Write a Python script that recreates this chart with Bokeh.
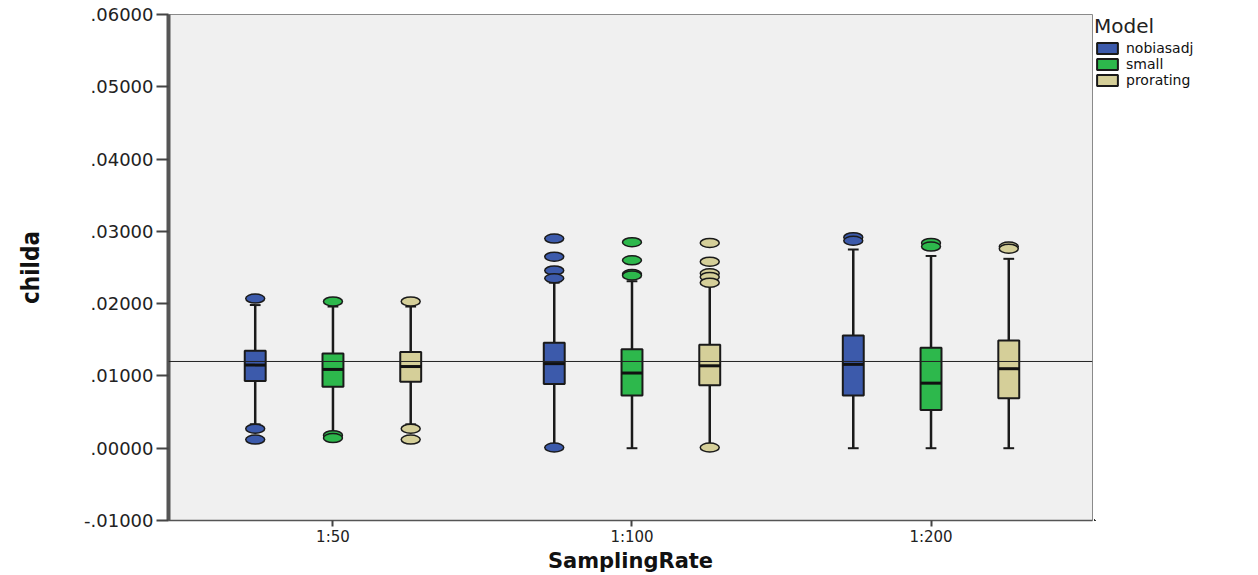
from bokeh.plotting import figure
from bokeh.layouts import row
from bokeh.models import (ColumnDataSource, Span, Legend, LegendItem, FixedTicker,
                          CustomJSTickFormatter, Range1d)
from bokeh.embed import file_html
from bokeh.resources import INLINE

groups = ["1:50", "1:100", "1:200"]
models = ["nobiasadj", "small", "prorating"]
colors = ["#3c5aab", "#2db84c", "#d5cf99"]

# rows: model, columns: sampling rate group
whisker_low = [[0.0033, 0.0005, 0.0000],
               [0.0022, 0.0000, 0.0000],
               [0.0033, 0.0005, 0.0000]]
q1 = [[0.0093, 0.0089, 0.0073],
      [0.0085, 0.0073, 0.0053],
      [0.0092, 0.0087, 0.0069]]
median = [[0.0115, 0.0117, 0.0116],
          [0.0109, 0.0104, 0.0090],
          [0.0113, 0.0114, 0.0110]]
q3 = [[0.0135, 0.0146, 0.0156],
      [0.0131, 0.0137, 0.0139],
      [0.0133, 0.0143, 0.0149]]
whisker_high = [[0.0198, 0.0229, 0.0275],
                [0.0196, 0.0231, 0.0266],
                [0.0196, 0.0224, 0.0262]]
outliers = [
    [[0.0207, 0.0027, 0.0012], [0.0290, 0.0265, 0.0246, 0.0235, 0.0001], [0.0292, 0.0287]],
    [[0.0203, 0.0018, 0.0014], [0.0285, 0.0260, 0.0241, 0.0239], [0.0284, 0.0279]],
    [[0.0203, 0.0027, 0.0012], [0.0284, 0.0258, 0.0242, 0.0237, 0.0229, 0.0001], [0.0279, 0.0276]],
]
reference_value = 0.012
y_ticks = [-0.01, 0.0, 0.01, 0.02, 0.03, 0.04, 0.05, 0.06]
x_title = "SamplingRate"
y_title = "childa"
legend_title = "Model"

offsets = [-0.26, 0.0, 0.26]
box_w = 0.07
cap_w = 0.036
med_w = 0.07

p = figure(width=1094, height=575,
           x_range=Range1d(-0.55, 2.54), y_range=Range1d(-0.01, 0.06),
           output_backend="svg", toolbar_location=None,
           min_border_left=168, min_border_right=2,
           min_border_top=14, min_border_bottom=48)
p.background_fill_color = "#f0f0f0"
p.border_fill_color = "white"
p.outline_line_color = "#8a8a8a"
p.outline_line_width = 1
p.xgrid.visible = False
p.ygrid.visible = False

# separate narrow figure that only holds the legend
lg = figure(width=164, height=575, x_range=Range1d(10, 11), y_range=Range1d(10, 11),
            output_backend="svg", toolbar_location=None,
            x_axis_location=None, y_axis_location=None,
            min_border_left=0, min_border_right=0, min_border_top=14, min_border_bottom=0)
lg.outline_line_color = None
lg.background_fill_color = "white"
lg.border_fill_color = "white"
lg.xgrid.visible = False
lg.ygrid.visible = False

legend_items = []
for m, name in enumerate(models):
    xs = [g + offsets[m] for g in range(len(groups))]
    src = ColumnDataSource(dict(
        x=xs, lo=whisker_low[m], q1=q1[m], med=median[m], q3=q3[m], hi=whisker_high[m],
        x0c=[x - cap_w / 2 for x in xs], x1c=[x + cap_w / 2 for x in xs],
        x0m=[x - med_w / 2 for x in xs], x1m=[x + med_w / 2 for x in xs],
    ))
    p.segment(x0="x", y0="lo", x1="x", y1="hi", source=src, line_color="#1a1a1a", line_width=2.5)
    p.segment(x0="x0c", y0="lo", x1="x1c", y1="lo", source=src, line_color="#1a1a1a", line_width=2)
    p.segment(x0="x0c", y0="hi", x1="x1c", y1="hi", source=src, line_color="#1a1a1a", line_width=2)
    p.vbar(x="x", width=box_w, bottom="q1", top="q3", source=src,
           fill_color=colors[m], line_color="#1a1a1a", line_width=2)
    p.segment(x0="x0m", y0="med", x1="x1m", y1="med", source=src, line_color="#111111", line_width=3)
    ox, oy = [], []
    for g in range(len(groups)):
        for v in outliers[m][g]:
            ox.append(g + offsets[m])
            oy.append(v)
    p.ellipse(x=ox, y=oy, width=19, height=9, width_units="screen", height_units="screen",
              fill_color=colors[m], line_color="#1a1a1a", line_width=1.5)
    # same boxes in the legend figure (outside its visible range), used as legend swatches
    r = lg.vbar(x="x", width=box_w, bottom="q1", top="q3", source=src,
                fill_color=colors[m], line_color="#1a1a1a", line_width=2)
    legend_items.append(LegendItem(label=name, renderers=[r]))

p.add_layout(Span(location=reference_value, dimension="width", line_color="#222222", line_width=1))

# y axis
p.yaxis.ticker = FixedTicker(ticks=y_ticks)
p.yaxis.formatter = CustomJSTickFormatter(code="""
const s = Math.abs(tick).toFixed(5).replace(/^0/, '');
return (tick < -1e-12 ? '-' : '') + s;
""")
p.yaxis.minor_tick_line_color = None
p.yaxis.axis_line_width = 4
p.yaxis.axis_line_color = "#555555"
p.yaxis.major_tick_line_width = 2
p.yaxis.major_tick_line_color = "#444444"
p.yaxis.major_tick_out = 12
p.yaxis.major_tick_in = 0
p.yaxis.major_label_standoff = 3
p.yaxis.major_label_text_font = "DejaVu Sans"
p.yaxis.major_label_text_font_size = "18px"
p.yaxis.major_label_text_color = "#222222"
p.yaxis.axis_label = y_title
p.yaxis.axis_label_text_font = "Liberation Sans Narrow, DejaVu Sans Condensed, Liberation Sans"
p.yaxis.axis_label_text_font_style = "bold"
p.yaxis.axis_label_text_font_size = "24px"
p.yaxis.axis_label_text_color = "#111111"
p.yaxis.axis_label_standoff = 36

# x axis
p.xaxis.ticker = FixedTicker(ticks=list(range(len(groups))))
p.xaxis.major_label_overrides = {i: g for i, g in enumerate(groups)}
p.xaxis.minor_tick_line_color = None
p.xaxis.axis_line_width = 1.5
p.xaxis.axis_line_color = "#555555"
p.xaxis.major_tick_line_width = 2
p.xaxis.major_tick_line_color = "#444444"
p.xaxis.major_tick_out = 6
p.xaxis.major_tick_in = 0
p.xaxis.major_label_standoff = 1
p.xaxis.major_label_text_font = "DejaVu Sans"
p.xaxis.major_label_text_font_size = "15px"
p.xaxis.major_label_text_color = "#222222"
p.xaxis.axis_label = x_title
p.xaxis.axis_label_text_font = "DejaVu Sans"
p.xaxis.axis_label_text_font_style = "bold"
p.xaxis.axis_label_text_font_size = "21px"
p.xaxis.axis_label_text_color = "#111111"
p.xaxis.axis_label_standoff = 0

legend = Legend(items=legend_items, location="top_left", title=legend_title,
                orientation="vertical")
legend.title_text_font = "DejaVu Sans"
legend.title_text_font_size = "20px"
legend.title_text_font_style = "normal"
legend.title_text_color = "#222222"
legend.title_standoff = 2
legend.label_text_font = "DejaVu Sans"
legend.label_text_font_size = "14px"
legend.label_text_color = "#111111"
legend.label_height = 14
legend.label_standoff = 6
legend.glyph_width = 26
legend.glyph_height = 14
legend.spacing = 0
legend.padding = 4
legend.margin = 0
legend.border_line_color = None
legend.background_fill_alpha = 0
lg.add_layout(legend)

layout = row(p, lg)
open("out.html", "w").write(file_html(layout, INLINE))
